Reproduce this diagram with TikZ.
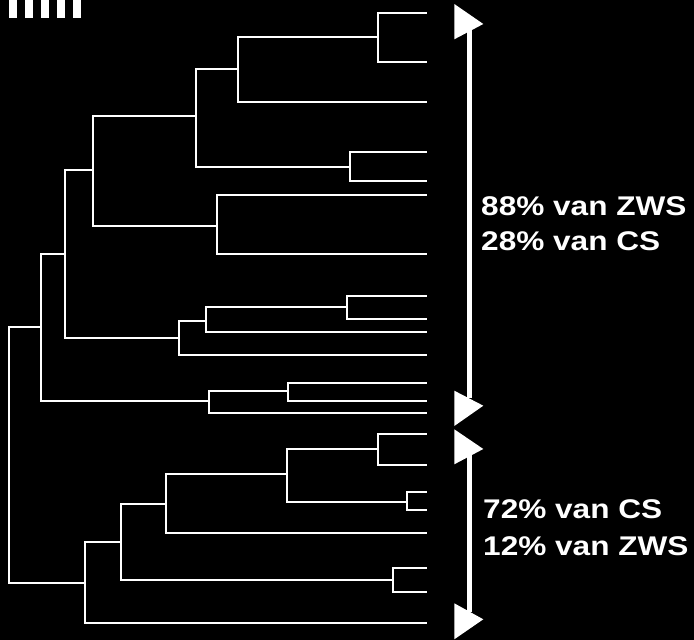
\documentclass[tikz,border=0pt]{standalone}
\usepackage{fontspec}
\setmainfont{Liberation Sans}
\begin{document}
\begin{tikzpicture}[x=1pt,y=-1pt,
  branch/.style={draw=white,line width=2pt,line cap=rect},
  bar/.style={draw=white,line width=5pt},
  tip/.style={fill=white},
  lbl/.style={text=white,anchor=base west,inner sep=0pt,font=\fontsize{27}{27}\selectfont\bfseries}]
\fill[black] (0,0) rectangle (694,640);
\useasboundingbox (0,0) rectangle (694,640);
% cut-off marks at top left
\foreach \xa in {9.3,25.3,40.7,56.7,72.7}
  \fill[white] (\xa,0) rectangle ++(7.8,18.3);
% leaves
\foreach \n/\yy in {1/12.7,2/62,3/101.7,4/152,5/181,6/195,7/254,8/296,9/319,10/332,11/355,12/383,13/401,14/413,15/434,16/465,17/492,18/510,19/533,20/568,21/592,22/623}
  \coordinate (l\n) at (426,\yy);
% internal nodes
\coordinate (A) at (378,37);
\coordinate (B) at (238,69);
\coordinate (C) at (350,167);
\coordinate (D) at (196,116);
\coordinate (E) at (217,226);
\coordinate (F) at (93,170);
\coordinate (G) at (347,307);
\coordinate (H) at (206,321);
\coordinate (I) at (179,338);
\coordinate (J) at (65,254);
\coordinate (K) at (288,391);
\coordinate (L) at (209,401);
\coordinate (M) at (41,327);
\coordinate (N) at (378,449);
\coordinate (O) at (407,502);
\coordinate (P) at (287,474);
\coordinate (Q) at (166,504);
\coordinate (R) at (393,580);
\coordinate (S) at (121,542);
\coordinate (T) at (85,583);
\coordinate (root) at (9,455);
\foreach \p/\a/\b in {A/l1/l2,B/A/l3,C/l4/l5,D/B/C,E/l6/l7,F/D/E,G/l8/l9,H/G/l10,I/H/l11,J/F/I,K/l12/l13,L/K/l14,M/J/L,N/l15/l16,O/l17/l18,P/N/O,Q/P/l19,R/l20/l21,S/Q/R,T/S/l22,root/M/T}
  \draw[branch] (\a) -| (\p) |- (\b);
% arrows
\coordinate (a1s) at (469.5,30);
\coordinate (a1e) at (469.5,398);
\coordinate (a2s) at (469.5,443);
\coordinate (a2e) at (469.5,612);
\draw[bar] (a1s) -- (a1e);
\draw[bar] (a2s) -- (a2e);
\fill[tip] (454.3,4) -- (483.3,24) -- (454.3,39.3) -- cycle;
\fill[tip] (454.3,390.7) -- (483.3,405.7) -- (454.3,426) -- cycle;
\fill[tip] (454.3,429.3) -- (483.3,449) -- (454.3,464.3) -- cycle;
\fill[tip] (454.3,603.3) -- (483.3,619.3) -- (454.3,639.3) -- cycle;
% labels
\node[lbl] (t1) at (481,215) {\scalebox{1.17}[1]{88\% van ZWS}};
\node[lbl] (t2) at (481,250) {\scalebox{1.17}[1]{28\% van CS}};
\node[lbl] (t3) at (483,518) {\scalebox{1.17}[1]{72\% van CS}};
\node[lbl] (t4) at (483,555) {\scalebox{1.17}[1]{12\% van ZWS}};
\end{tikzpicture}
\end{document}
